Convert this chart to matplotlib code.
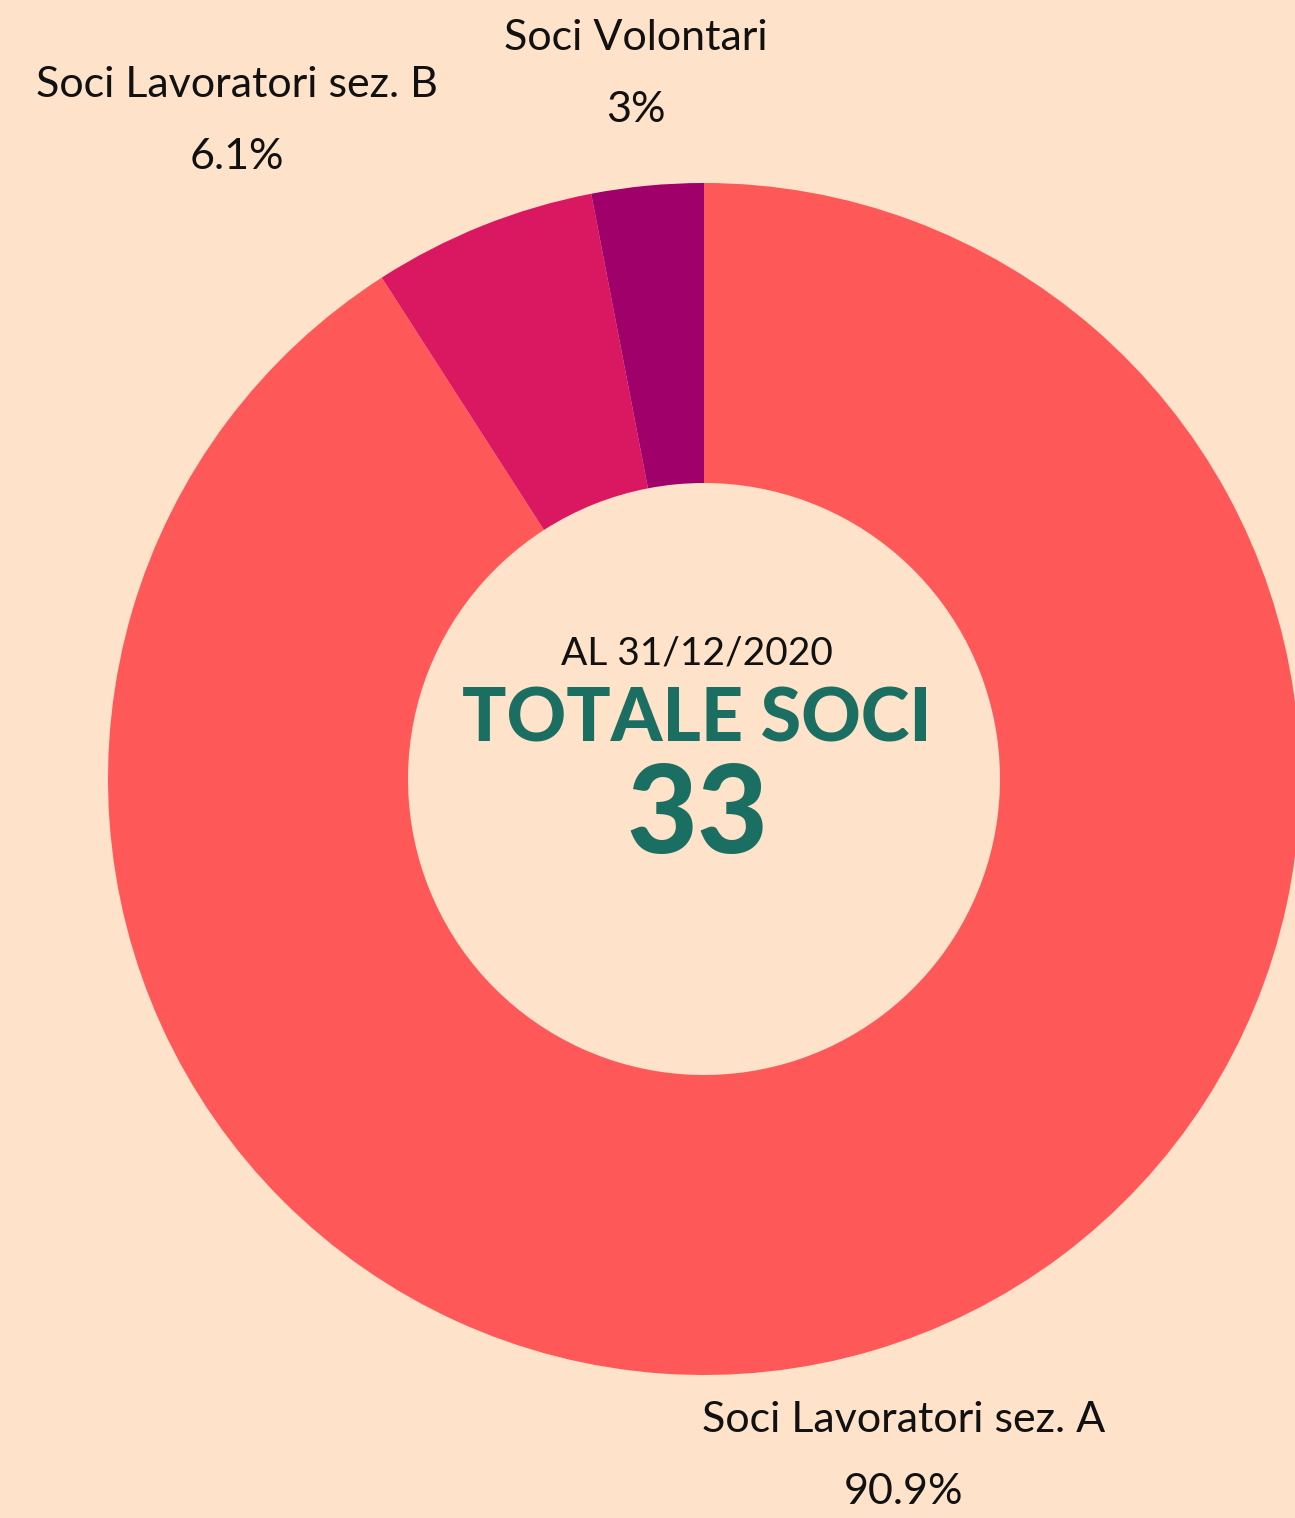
import matplotlib.pyplot as plt

labels = ["Soci Lavoratori sez. A", "Soci Lavoratori sez. B", "Soci Volontari"]
values = [30, 2, 1]
colors = ["#FF5858", "#DA1862", "#A0006A"]
total = sum(values)

bg = "#FEE2C9"
green = "#1A6E62"

fig = plt.figure(figsize=(12.95, 15.18), dpi=100)
fig.patch.set_facecolor(bg)
ax = fig.add_axes([0, 0, 1, 1])
ax.set_facecolor(bg)

cx, cy, r = 704, 1518 - 779, 596
ax.pie(values, colors=colors, startangle=90, counterclock=False,
       center=(cx, cy), radius=r, frame=True,
       wedgeprops=dict(width=r - 296, linewidth=0))
ax.set_xlim(0, 1295)
ax.set_ylim(0, 1518)
ax.set_aspect("equal")
ax.axis("off")

lab_font = dict(family=["Lato", "DejaVu Sans"], fontsize=31, color="#111111")
pos = {0: (904, 1420), 1: (237, 85), 2: (636, 38)}
for i, lab in enumerate(labels):
    x, y = pos[i]
    pct = 100 * values[i] / total
    s = f"{pct:.1f}".rstrip("0").rstrip(".") + "%"
    ax.text(x, 1518 - y, lab, ha="center", va="center", **lab_font)
    ax.text(x, 1518 - y - 72, s, ha="center", va="center", **lab_font)

ax.text(697, 1518 - 653, "AL 31/12/2020", ha="center", va="center",
        family=["Lato", "DejaVu Sans"], fontsize=28, color="#111111")
ax.text(697, 1518 - 720, "TOTALE SOCI", ha="center", va="center",
        family=["Lato", "DejaVu Sans"], fontweight="black", fontsize=53, color=green)
ax.text(697, 1518 - 818, str(total), ha="center", va="center",
        family=["Lato", "DejaVu Sans"], fontweight="black", fontsize=88, color=green)

fig.savefig("out.png", dpi=100, facecolor=bg)
